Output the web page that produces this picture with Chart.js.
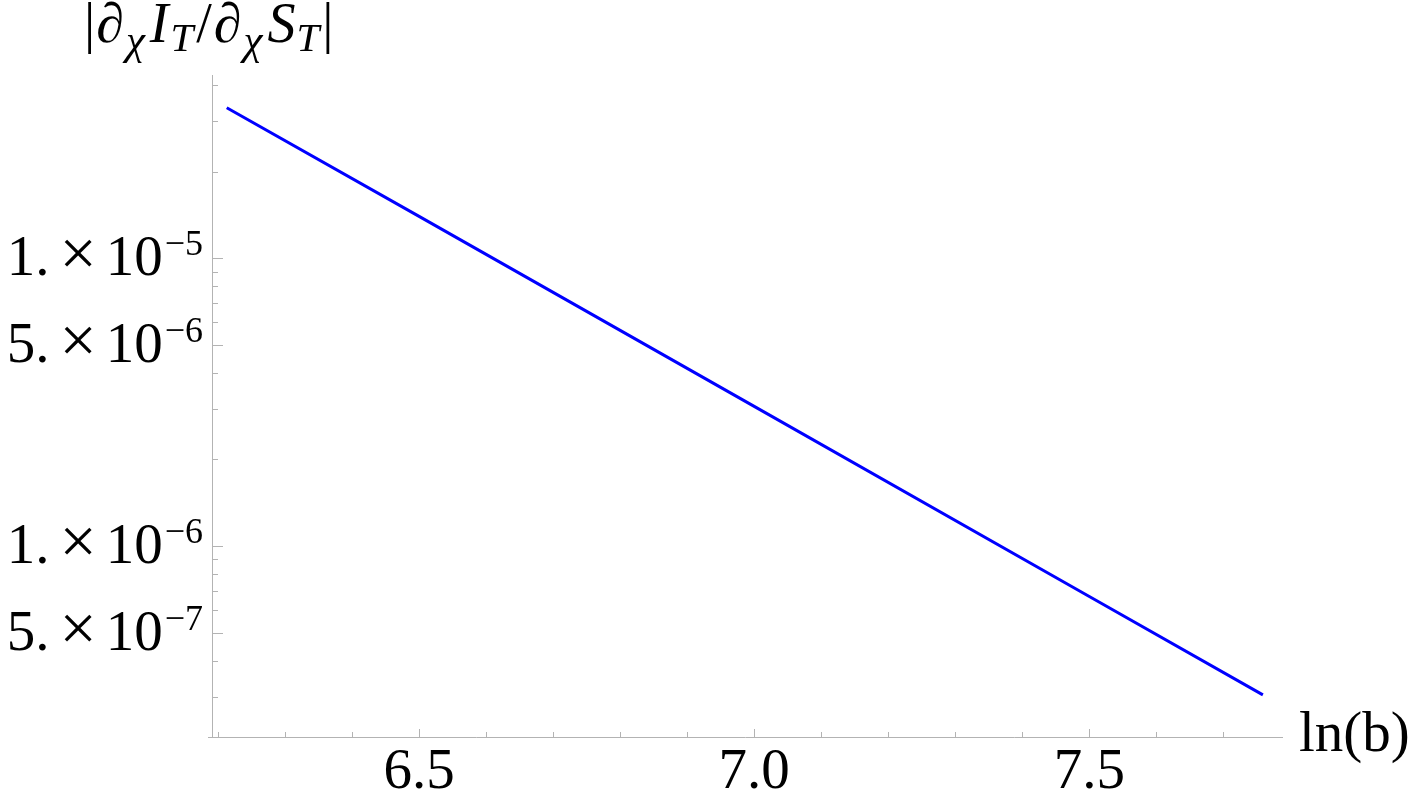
<!DOCTYPE html>
<html>
<head>
<meta charset="utf-8">
<script src="https://cdn.jsdelivr.net/npm/chart.js@4.4.1/dist/chart.umd.min.js"></script>
<style>
  html,body{margin:0;padding:0;background:#fff;}
  #wrap{width:1415px;height:805px;position:relative;}
</style>
</head>
<body>
<div id="wrap"><canvas id="ch"></canvas></div>
<script>
// data: x = ln(b), y = |dI/dS|
const xValues=[6.213,6.5,7.0,7.5,7.759];
const yValues=[3.34e-5,1.40e-5,3.06e-6,6.68e-7,3.04e-7];

// axis ticks
const xLabelTicks=[6.5,7.0,7.5];
const xMinorTicks=[6.2,6.3,6.4,6.6,6.7,6.8,6.9,7.1,7.2,7.3,7.4,7.6,7.7];
const yLabelTicks=[1e-5,5e-6,1e-6,5e-7];
const yMinorTicks=[3e-7,4e-7,6e-7,7e-7,8e-7,9e-7,2e-6,3e-6,4e-6,6e-6,7e-6,8e-6,9e-6,2e-5,3e-5,4e-5];

const SERIF='"Liberation Serif","DejaVu Serif",serif';
const AXIS='#b3b3b3';

function drawRich(ctx,x,y,segs){
  let cx=x;
  segs.forEach(s=>{
    if(s.gap){cx+=s.gap;return;}
    ctx.font=(s.it?'italic ':'')+s.size+'px '+SERIF;
    ctx.fillText(s.t,cx,y+(s.dy||0));
    cx+=ctx.measureText(s.t).width+(s.after||0);
  });
  return cx-x;
}
function richWidth(ctx,segs){
  let w=0;
  segs.forEach(s=>{
    if(s.gap){w+=s.gap;return;}
    ctx.font=(s.it?'italic ':'')+s.size+'px '+SERIF;
    w+=ctx.measureText(s.t).width+(s.after||0);
  });
  return w;
}

const axesPlugin={
  id:'mmaAxes',
  afterDraw(chart){
    const {ctx,chartArea:a,scales:{x,y}}=chart;
    ctx.save();
    ctx.strokeStyle=AXIS;ctx.lineWidth=1;
    // axis lines
    ctx.beginPath();
    ctx.moveTo(a.left-4,a.bottom+0.5);ctx.lineTo(a.right,a.bottom+0.5);
    ctx.moveTo(a.left+0.5,a.top);ctx.lineTo(a.left+0.5,a.bottom);
    ctx.stroke();
    // x ticks (drawn inward)
    ctx.beginPath();
    xLabelTicks.forEach(v=>{const px=Math.round(x.getPixelForValue(v))+0.5;ctx.moveTo(px,a.bottom);ctx.lineTo(px,a.bottom-8);});
    xMinorTicks.forEach(v=>{const px=Math.round(x.getPixelForValue(v))+0.5;ctx.moveTo(px,a.bottom);ctx.lineTo(px,a.bottom-5);});
    // y ticks
    yLabelTicks.forEach(v=>{const py=Math.round(y.getPixelForValue(v))+0.5;ctx.moveTo(a.left,py);ctx.lineTo(a.left+11,py);});
    yMinorTicks.forEach(v=>{const py=Math.round(y.getPixelForValue(v))+0.5;ctx.moveTo(a.left,py);ctx.lineTo(a.left+6,py);});
    ctx.stroke();

    ctx.fillStyle='#000';
    ctx.textBaseline='alphabetic';
    // x labels
    ctx.textAlign='center';
    ctx.font='57px '+SERIF;
    xLabelTicks.forEach(v=>ctx.fillText(v.toFixed(1),x.getPixelForValue(v),788));
    // y labels 1.×10^-5 style
    ctx.textAlign='left';
    yLabelTicks.forEach(v=>{
      const e=Math.floor(Math.log10(v)+1e-9);
      const m=Math.round(v/Math.pow(10,e));
      const segs=[{t:m+'.',size:57},{gap:10},{t:'×',size:66},{gap:9},{t:'10',size:57},{gap:2},{t:'−'+Math.abs(e),size:36,dy:-20}];
      const w=richWidth(ctx,segs);
      drawRich(ctx,203-w,y.getPixelForValue(v)+17,segs);
    });
    // axis labels
    ctx.font='57px '+SERIF;
    ctx.fillText('ln(b)',1299,751);
    drawRich(ctx,84,42,[
      {t:'|',size:56,after:1},
      {t:'∂',size:56,it:true,after:2},
      {t:'χ',size:43,it:true,dy:12,after:5},
      {t:'I',size:56,it:true,after:2},
      {t:'T',size:41,it:true,dy:9,after:3},
      {t:'/',size:56,after:2},
      {t:'∂',size:56,it:true,after:2},
      {t:'χ',size:43,it:true,dy:12,after:5},
      {t:'S',size:56,it:true,after:1},
      {t:'T',size:41,it:true,dy:9,after:3},
      {t:'|',size:56}
    ]);
    ctx.restore();
  }
};

new Chart(document.getElementById('ch'),{
  type:'line',
  data:{
    datasets:[{
      data:xValues.map((v,i)=>({x:v,y:yValues[i]})),
      borderColor:'#0000ff',borderWidth:3,pointRadius:0,tension:0,fill:false
    }]
  },
  options:{
    responsive:true,maintainAspectRatio:false,animation:false,
    layout:{padding:{left:212,right:132,top:75,bottom:68}},
    plugins:{legend:{display:false},tooltip:{enabled:false}},
    scales:{
      x:{type:'linear',display:false,min:6.191,max:7.789},
      y:{type:'logarithmic',display:false,min:2.17e-7,max:4.34e-5}
    }
  },
  plugins:[axesPlugin]
});
</script>
</body>
</html>
